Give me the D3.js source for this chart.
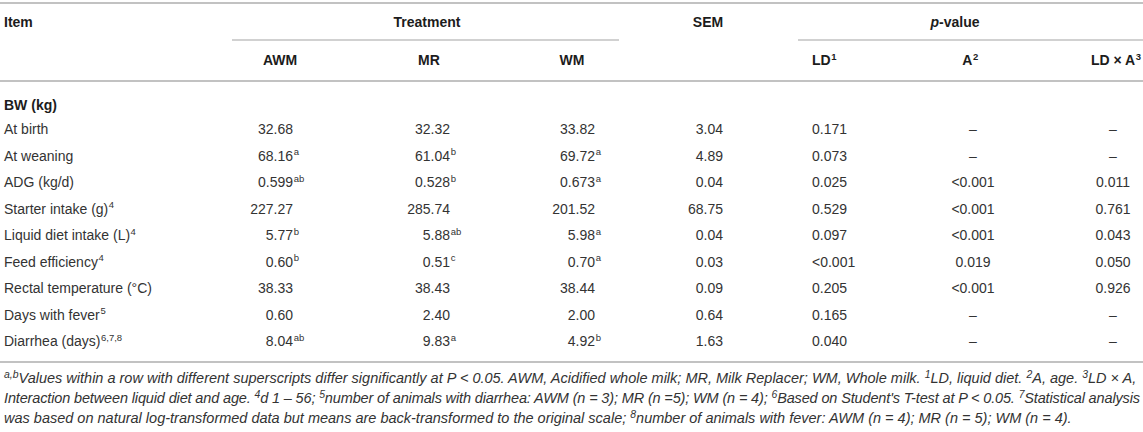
<!DOCTYPE html>
<html>
<head>
<meta charset="utf-8">
<script src="https://cdn.jsdelivr.net/npm/d3@7"></script>
<style>
  html, body { margin: 0; padding: 0; background: #ffffff; }
  svg { display: block; }
  text { font-family: "Liberation Sans", Arial, Helvetica, sans-serif; }
</style>
</head>
<body>
<div id="chart"></div>
<script>
// ---------------- data ----------------
const columns = ["AWM", "MR", "WM", "SEM", "LD", "A", "LDxA"];
const groupHeaders = ["Treatment", "SEM", "p-value"];
const rowLabels = ["At birth", "At weaning", "ADG (kg/d)", "Starter intake (g)", "Liquid diet intake (L)",
  "Feed efficiency", "Rectal temperature (°C)", "Days with fever", "Diarrhea (days)"];
const rowNotes = ["", "", "", "4", "4", "4", "", "5", "6,7,8"];
const awmValues = ["32.68", "68.16", "0.599", "227.27", "5.77", "0.60", "38.33", "0.60", "8.04"];
const awmLetters = ["", "a", "ab", "", "b", "b", "", "", "ab"];
const mrValues = ["32.32", "61.04", "0.528", "285.74", "5.88", "0.51", "38.43", "2.40", "9.83"];
const mrLetters = ["", "b", "b", "", "ab", "c", "", "", "a"];
const wmValues = ["33.82", "69.72", "0.673", "201.52", "5.98", "0.70", "38.44", "2.00", "4.92"];
const wmLetters = ["", "a", "a", "", "a", "a", "", "", "b"];
const semValues = ["3.04", "4.89", "0.04", "68.75", "0.04", "0.03", "0.09", "0.64", "1.63"];
const pLD = ["0.171", "0.073", "0.025", "0.529", "0.097", "<0.001", "0.205", "0.165", "0.040"];
const pA = ["–", "–", "<0.001", "<0.001", "<0.001", "0.019", "<0.001", "–", "–"];
const pLDxA = ["–", "–", "0.011", "0.761", "0.043", "0.050", "0.926", "–", "–"];

const footnotes = [
  [["a,b", 1], ["Values within a row with different superscripts differ significantly at P < 0.05. AWM, Acidified whole milk; MR, Milk Replacer; WM, Whole milk. ", 0],
   ["1", 1], ["LD, liquid diet. ", 0], ["2", 1], ["A, age. ", 0], ["3", 1], ["LD × A,", 0]],
  [["Interaction between liquid diet and age. ", 0], ["4", 1], ["d 1 – 56; ", 0], ["5", 1],
   ["number of animals with diarrhea: AWM (n = 3); MR (n =5); WM (n = 4); ", 0], ["6", 1],
   ["Based on Student's T-test at P < 0.05. ", 0], ["7", 1], ["Statistical analysis", 0]],
  [["was based on natural log-transformed data but means are back-transformed to the original scale; ", 0], ["8", 1],
   ["number of animals with fever: AWM (n = 4); MR (n = 5); WM (n = 4).", 0]]
];

// ---------------- layout ----------------
const W = 1143, H = 432;
const FS = 14, SUP = 9.5;
const textCol = "#333333", headCol = "#1c1c1c", ruleCol = "#c2c2c2";

const svg = d3.select("#chart").append("svg").attr("width", W).attr("height", H);
svg.append("rect").attr("width", W).attr("height", H).attr("fill", "#fff");

// column anchor positions and alignment
const xCol = d3.scaleOrdinal().domain(columns).range([293, 450, 595, 723, 812, 973, 1113]);
const alignCol = d3.scaleOrdinal().domain(columns).range(["end", "end", "end", "end", "start", "middle", "middle"]);
const xHead = d3.scaleOrdinal().domain(columns).range([280, 429, 572, 708, 812, 970, 1141]);
const alignHead = d3.scaleOrdinal().domain(columns).range(["middle", "middle", "middle", "middle", "start", "middle", "end"]);

const y = d3.scalePoint().domain(rowLabels).range([129, 341]);
const yRow = d => y(d) + 5;   // baseline

function cell(g, x, yb, anchor, main, sup, opts = {}) {
  const t = g.append("text").attr("x", x).attr("y", yb).attr("text-anchor", anchor)
    .attr("font-size", opts.fs || FS).attr("fill", opts.fill || textCol)
    .attr("font-weight", opts.bold ? "bold" : "normal").text(main);
  if (sup) {
    const bb = t.node().getBBox();
    g.append("text").attr("x", bb.x + bb.width + 0.5).attr("y", yb - 5.5)
      .attr("font-size", SUP).attr("fill", opts.fill || textCol)
      .attr("font-weight", opts.bold ? "bold" : "normal").text(sup);
  }
  return t;
}

// rules
const rules = svg.append("g");
function rule(x1, x2, yy, w) {
  rules.append("line").attr("x1", x1).attr("x2", x2).attr("y1", yy).attr("y2", yy)
    .attr("stroke", ruleCol).attr("stroke-width", w);
}
rule(0, W, 3, 2);
rule(232, 619, 40, 1.5);
rule(798, W, 40, 1.5);
rule(0, W, 81, 2);
rule(0, W, 362, 2);

// header
const head = svg.append("g");
cell(head, 4, 27, "start", "Item", "", { bold: true, fill: headCol });
cell(head, 427, 27, "middle", groupHeaders[0], "", { bold: true, fill: headCol });
cell(head, xHead("SEM"), 27, "middle", groupHeaders[1], "", { bold: true, fill: headCol });
const pv = head.append("text").attr("x", 955).attr("y", 27).attr("text-anchor", "middle")
  .attr("font-size", FS).attr("font-weight", "bold").attr("fill", headCol);
pv.append("tspan").attr("font-style", "italic").text(groupHeaders[2].slice(0, 1));
pv.append("tspan").text(groupHeaders[2].slice(1));

const subHeads = [["AWM", ""], ["MR", ""], ["WM", ""], null, ["LD", "1"], ["A", "2"], ["LD × A", "3"]];
columns.forEach((c, i) => {
  const s = subHeads[i];
  if (!s) return;
  if (alignHead(c) === "end") {
    const tmp = head.append("text").attr("font-size", SUP).attr("font-weight", "bold").text(s[1]);
    const sw = tmp.node().getComputedTextLength(); tmp.remove();
    cell(head, xHead(c) - sw - 0.5, 65, "end", s[0], s[1], { bold: true, fill: headCol });
  } else if (alignHead(c) === "middle" && s[1]) {
    const tmp = head.append("text").attr("font-size", SUP).attr("font-weight", "bold").text(s[1]);
    const sw = tmp.node().getComputedTextLength(); tmp.remove();
    cell(head, xHead(c) - sw / 2, 65, "middle", s[0], s[1], { bold: true, fill: headCol });
  } else {
    cell(head, xHead(c), 65, alignHead(c), s[0], s[1], { bold: true, fill: headCol });
  }
});

// body
const body = svg.append("g");
cell(body, 4, 110, "start", "BW (kg)", "", { bold: true, fill: headCol });
const colData = {
  AWM: [awmValues, awmLetters], MR: [mrValues, mrLetters], WM: [wmValues, wmLetters],
  SEM: [semValues, null], LD: [pLD, null], A: [pA, null], LDxA: [pLDxA, null]
};
rowLabels.forEach((r, i) => {
  cell(body, 4, yRow(r), "start", r, rowNotes[i]);
  columns.forEach(c => {
    const [vals, lets] = colData[c];
    cell(body, xCol(c), yRow(r), alignCol(c), vals[i], lets ? lets[i] : "");
  });
});

// footnotes
const fn = svg.append("g");
const fnY = [383, 403, 423];
const fnFS = 13;
const lines = footnotes.map((segs, li) => {
  const t = fn.append("text").attr("x", 4).attr("y", fnY[li]).attr("font-size", fnFS)
    .attr("font-style", "italic").attr("fill", textCol);
  let raised = false;
  segs.forEach(([s, isSup]) => {
    const ts = t.append("tspan").text(s);
    if (isSup) { ts.attr("font-size", 9.5).attr("dy", -5); raised = true; }
    else if (raised) { ts.attr("dy", 5); raised = false; }
  });
  return t;
});
const w1 = lines[0].node().getComputedTextLength();
const k = 1134 / w1;
lines.forEach(t => {
  t.attr("font-size", fnFS * k);
  t.selectAll("tspan").each(function () {
    const el = d3.select(this);
    if (el.attr("font-size")) el.attr("font-size", 9.5 * Math.min(k, 1.1));
  });
});
lines[1].attr("textLength", 1136).attr("lengthAdjust", "spacing");
</script>
</body>
</html>
